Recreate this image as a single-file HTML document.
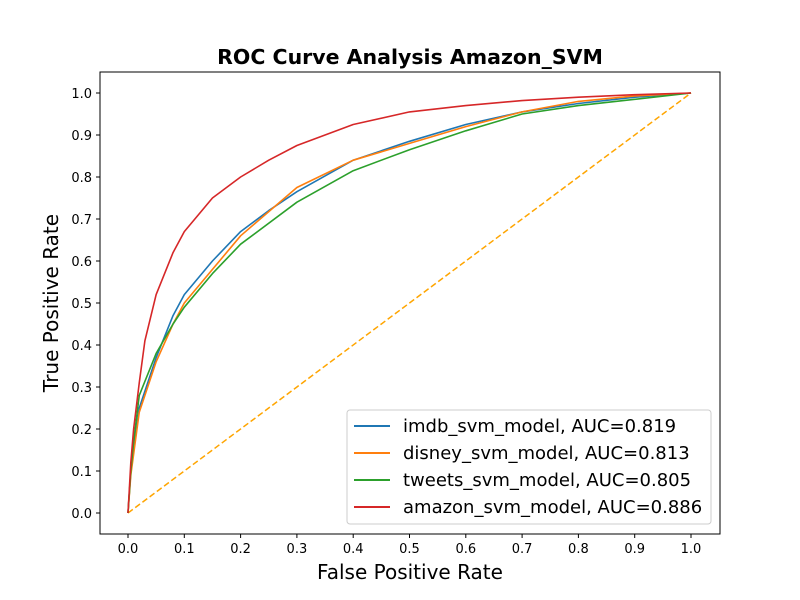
<!DOCTYPE html>
<html><head><meta charset="utf-8"><style>body{margin:0;background:#fff}svg{display:block;font-family:"DejaVu Sans","Liberation Sans",sans-serif}</style></head>
<body>
<svg id="chart" width="800" height="600" xmlns="http://www.w3.org/2000/svg">
<rect width="800" height="600" fill="#fff"/>
<text x="410" y="64" text-anchor="middle" font-size="20.5" font-weight="bold">ROC Curve Analysis Amazon_SVM</text>
<g id="ticks"></g>
<g id="lines"></g>
<rect x="100" y="72" width="620" height="462" fill="none" stroke="#000" stroke-width="1"/>
<text x="410" y="579" text-anchor="middle" font-size="20">False Positive Rate</text>
<text transform="translate(58,303) rotate(-90)" text-anchor="middle" font-size="20">True Positive Rate</text>
<g id="legend"></g>
</svg>
<script>
const ticks=[0,0.1,0.2,0.3,0.4,0.5,0.6,0.7,0.8,0.9,1.0];
const seriesNames=["imdb_svm_model, AUC=0.819","disney_svm_model, AUC=0.813","tweets_svm_model, AUC=0.805","amazon_svm_model, AUC=0.886"];
const colors=["#1f77b4","#ff7f0e","#2ca02c","#d62728"];
const imdbFpr=[0,0.005,0.01,0.02,0.05,0.08,0.1,0.15,0.2,0.25,0.3,0.4,0.5,0.6,0.7,0.8,0.9,1];
const imdbTpr=[0,0.1,0.15,0.25,0.37,0.47,0.52,0.6,0.67,0.72,0.765,0.84,0.885,0.925,0.955,0.975,0.99,1];
const disneyFpr=[0,0.005,0.01,0.02,0.05,0.08,0.1,0.15,0.2,0.3,0.4,0.5,0.6,0.7,0.8,0.9,1];
const disneyTpr=[0,0.09,0.14,0.24,0.36,0.45,0.5,0.58,0.66,0.775,0.84,0.88,0.92,0.955,0.98,0.993,1];
const tweetsFpr=[0,0.005,0.01,0.02,0.05,0.08,0.1,0.15,0.2,0.3,0.4,0.5,0.6,0.7,0.8,0.9,1];
const tweetsTpr=[0,0.1,0.17,0.28,0.38,0.45,0.49,0.57,0.64,0.74,0.815,0.865,0.91,0.95,0.97,0.985,1];
const amazonFpr=[0,0.005,0.01,0.02,0.03,0.05,0.08,0.1,0.15,0.2,0.25,0.3,0.4,0.5,0.6,0.7,0.8,0.9,1];
const amazonTpr=[0,0.12,0.2,0.31,0.41,0.52,0.62,0.67,0.75,0.8,0.84,0.875,0.925,0.955,0.97,0.982,0.99,0.996,1];
const xs=v=>128+v*563, ys=v=>513-v*420;
const NS="http://www.w3.org/2000/svg";
const tg=document.getElementById('ticks');
ticks.forEach(t=>{
  let l=document.createElementNS(NS,'line');
  
  
  l.setAttribute('x1',xs(t));l.setAttribute('x2',xs(t));l.setAttribute('y1',534);l.setAttribute('y2',538);l.setAttribute('stroke','#000');tg.appendChild(l);
  let tx=document.createElementNS(NS,'text');
  
  
  tx.setAttribute('x',xs(t));tx.setAttribute('y',553);tx.setAttribute('text-anchor','middle');tx.setAttribute('font-size','13');tx.textContent=t.toFixed(1);tg.appendChild(tx);
  let l2=document.createElementNS(NS,'line');
  
  
  l2.setAttribute('x1',96);l2.setAttribute('x2',100);l2.setAttribute('y1',ys(t));l2.setAttribute('y2',ys(t));l2.setAttribute('stroke','#000');tg.appendChild(l2);
  let ty=document.createElementNS(NS,'text');
  
  
  ty.setAttribute('x',92);ty.setAttribute('y',ys(t)+5);ty.setAttribute('text-anchor','end');ty.setAttribute('font-size','13');ty.textContent=t.toFixed(1);tg.appendChild(ty);
});
const lg=document.getElementById('lines');
const diag=document.createElementNS(NS,'line');


diag.setAttribute('x1',xs(0));diag.setAttribute('y1',ys(0));diag.setAttribute('x2',xs(1));diag.setAttribute('y2',ys(1));
diag.setAttribute('stroke','orange');diag.setAttribute('stroke-width','1.5');diag.setAttribute('stroke-dasharray','6,3');lg.appendChild(diag);
const data=[[imdbFpr,imdbTpr],[disneyFpr,disneyTpr],[tweetsFpr,tweetsTpr],[amazonFpr,amazonTpr]];
const lineNames=['imdb-roc-line','disney-roc-line','tweets-roc-line','amazon-roc-line'];
data.forEach((d,i)=>{
  let p=document.createElementNS(NS,'polyline');
  
  
  p.setAttribute('points',d[0].map((x,j)=>xs(x)+','+ys(d[1][j])).join(' '));
  p.setAttribute('fill','none');p.setAttribute('stroke',colors[i]);p.setAttribute('stroke-width','1.6');p.setAttribute('stroke-linejoin','round');lg.appendChild(p);
});
const leg=document.getElementById('legend');
const box=document.createElementNS(NS,'rect');


box.setAttribute('x',347);box.setAttribute('y',410);box.setAttribute('width',364);box.setAttribute('height',114);box.setAttribute('rx',3);
box.setAttribute('fill','#fff');box.setAttribute('fill-opacity','0.8');box.setAttribute('stroke','#ccc');leg.appendChild(box);
seriesNames.forEach((n,i)=>{
  const y=426+i*27;
  let l=document.createElementNS(NS,'line');
  
  
  l.setAttribute('x1',354);l.setAttribute('x2',390);l.setAttribute('y1',y);l.setAttribute('y2',y);l.setAttribute('stroke',colors[i]);l.setAttribute('stroke-width','2');leg.appendChild(l);
  let t=document.createElementNS(NS,'text');
  
  
  t.setAttribute('x',403);t.setAttribute('y',y+6);t.setAttribute('font-size','18');t.textContent=n;leg.appendChild(t);
});
</script>
</body></html>
